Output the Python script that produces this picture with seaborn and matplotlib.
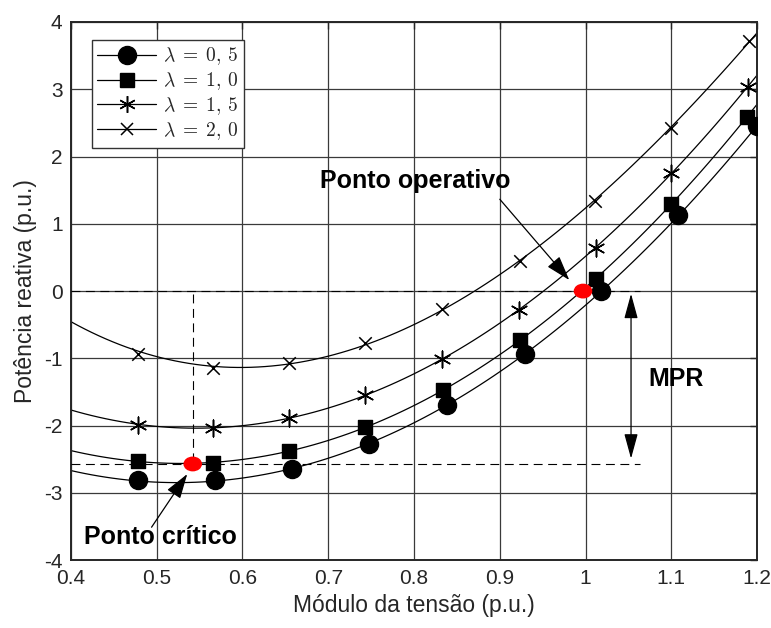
import numpy as np
import pandas as pd
import seaborn as sns
import matplotlib.pyplot as plt
from matplotlib.lines import Line2D
from matplotlib.patches import Ellipse

sns.set_theme(style="white")
plt.rcParams["font.family"] = ["Liberation Sans", "DejaVu Sans"]
plt.rcParams["mathtext.fontset"] = "cm"
plt.rcParams["axes.unicode_minus"] = False

# Curvas Q-V para cada carregamento lambda
lambdas = ["0,\\,5", "1,\\,0", "1,\\,5", "2,\\,0"]
tensao_05 = [0.478, 0.568, 0.658, 0.748, 0.838, 0.929, 1.018, 1.108, 1.200]
q_05 = [-2.81, -2.81, -2.64, -2.28, -1.695, -0.94, 0.0, 1.13, 2.45]
tensao_10 = [0.478, 0.566, 0.654, 0.743, 0.834, 0.923, 1.012, 1.100, 1.188]
q_10 = [-2.53, -2.555, -2.38, -2.02, -1.47, -0.73, 0.18, 1.29, 2.59]
tensao_15 = [0.478, 0.566, 0.654, 0.743, 0.833, 0.922, 1.012, 1.100, 1.189]
q_15 = [-1.99, -2.04, -1.885, -1.54, -1.01, -0.277, 0.642, 1.75, 3.04]
tensao_20 = [0.478, 0.566, 0.654, 0.743, 0.833, 0.923, 1.011, 1.100, 1.190]
q_20 = [-0.94, -1.14, -1.07, -0.77, -0.262, 0.44, 1.34, 2.425, 3.71]

# Valor de cada curva na borda esquerda (V = 0,4)
v_borda = 0.4
q_borda = [-2.68, -2.37, -1.76, -0.42]

# Pontos de destaque
ponto_operativo = (0.997, 0.0)
ponto_critico = (0.542, -2.57)
x_mpr = 1.053

series = [
    (tensao_05, q_05, "o", 13, 1.0),
    (tensao_10, q_10, "s", 9.5, 1.0),
    (tensao_15, q_15, (6, 2, 0), 12, 1.1),
    (tensao_20, q_20, "x", 9, 1.1),
]

fig = plt.figure(figsize=(7.71, 6.28), dpi=100)
ax = fig.add_axes([0.092, 0.108, 0.890, 0.857])
ax.set_xlim(0.4, 1.2)
ax.set_ylim(-4, 4)

handles = []
for (v, q, mk, ms, mew), lam, qb in zip(series, lambdas, q_borda):
    df = pd.DataFrame({"V": v, "Q": q})
    df_curva = pd.DataFrame({"V": [v_borda] + list(v), "Q": [qb] + list(q)})
    sns.regplot(data=df_curva, x="V", y="Q", order=3, ci=None, truncate=False,
                scatter=False, ax=ax, line_kws=dict(color="black", lw=0.9))
    sns.scatterplot(data=df, x="V", y="Q", ax=ax, marker=mk, color="black",
                    s=ms ** 2, linewidth=mew, edgecolor="black", zorder=4)
    handles.append(Line2D([], [], color="black", lw=0.9, marker=mk, ms=ms,
                          mew=mew, label=rf"$\lambda\;=\;{lam}$"))

ax.set_xlim(0.4, 1.2)
ax.set_ylim(-4, 4)

# Linhas tracejadas de referência
dash = dict(color="black", lw=0.8, ls=(0, (8, 5)))
ax.plot([0.4, 1.064], [0, 0], **dash, zorder=3)
ax.plot([0.4, 1.064], [ponto_critico[1], ponto_critico[1]], **dash, zorder=3)
ax.plot([ponto_critico[0], ponto_critico[0]], [-0.05, ponto_critico[1]], **dash, zorder=3)

# Pontos operativo e crítico
for px, py in (ponto_operativo, ponto_critico):
    ax.add_patch(Ellipse((px, py), 0.020, 0.20, color="red", zorder=6))

# Margem de potência reativa
ax.annotate("", xy=(x_mpr, -0.04), xytext=(x_mpr, ponto_critico[1] + 0.08),
            arrowprops=dict(arrowstyle="<|-|>,head_length=1.1,head_width=0.3",
                            color="black", lw=0.9, shrinkA=0, shrinkB=0,
                            mutation_scale=14))
bold = dict(fontsize=18, fontweight="bold", color="black", ha="center", va="center")
ax.text(1.106, -1.30, "MPR", **bold)

arrow_kw = dict(arrowstyle="-|>,head_length=1.1,head_width=0.35", color="black",
                lw=0.9, shrinkA=0, shrinkB=0, mutation_scale=14)
ax.annotate("", xy=(0.981, 0.164), xytext=(0.90, 1.365), arrowprops=arrow_kw)
ax.text(0.802, 1.63, "Ponto operativo", **bold)
ax.annotate("", xy=(0.5356, -2.72), xytext=(0.494, -3.51), arrowprops=arrow_kw)
ax.text(0.504, -3.66, "Ponto crítico", **bold)

# Eixos, grade e rótulos
ax.set_xticks(np.arange(0.4, 1.201, 0.1))
ax.set_xticklabels(["0.4", "0.5", "0.6", "0.7", "0.8", "0.9", "1", "1.1", "1.2"])
ax.set_yticks(np.arange(-4, 5, 1))
ax.grid(True, color="#3a3a3a", lw=0.9)
ax.tick_params(direction="in", length=5, width=1, top=True, right=True,
               labelsize=15, colors="#262626", pad=6)
for s in ax.spines.values():
    s.set_color("#262626")
    s.set_linewidth(1.4)
ax.set_xlabel("Módulo da tensão (p.u.)", fontsize=16.5, color="#262626", labelpad=5)
ax.set_ylabel("Potência reativa (p.u.)", fontsize=16.5, color="#262626", labelpad=5)

leg = ax.legend(handles=handles, loc="upper left", bbox_to_anchor=(0.03, 0.967),
                fontsize=14, frameon=True, fancybox=False, framealpha=1,
                edgecolor="#333333", handlelength=3.0, borderpad=0.3,
                labelspacing=0.15, handletextpad=0.4, borderaxespad=0)
leg.get_frame().set_linewidth(1.0)

fig.savefig("out.png", dpi=100)
